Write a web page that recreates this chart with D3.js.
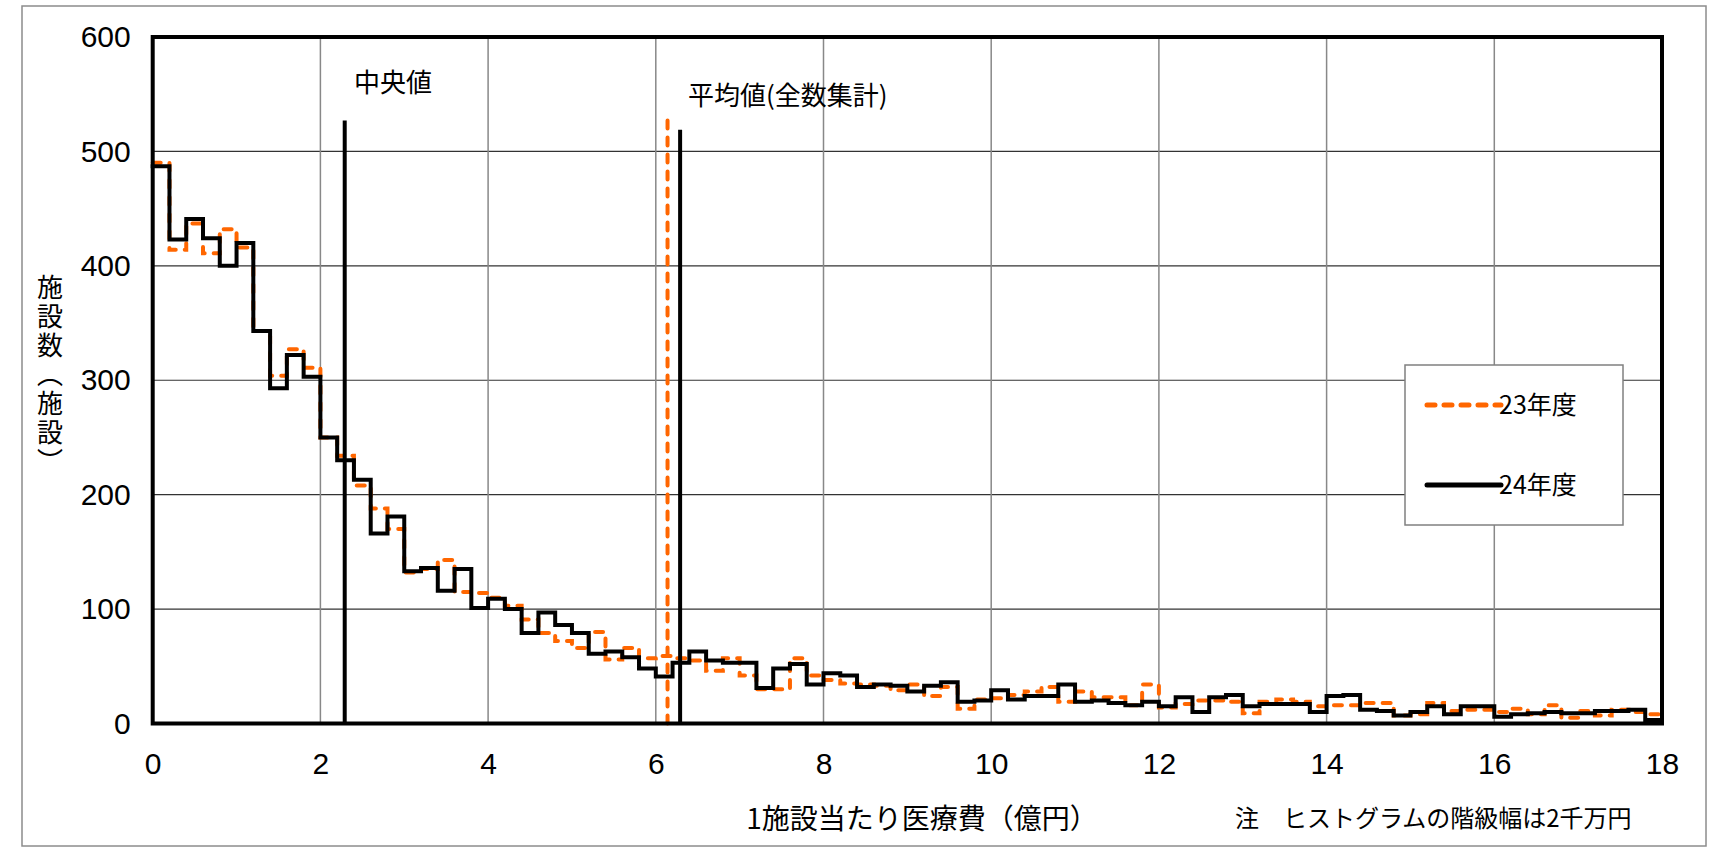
<!DOCTYPE html>
<html>
<head>
<meta charset="utf-8">
<script src="https://cdn.jsdelivr.net/npm/d3@7"></script>
<style>
body { margin:0; background:#fff; }
text { font-family:"Liberation Sans", Arial, sans-serif; }
.jp { font-family:"Noto Sans CJK JP", sans-serif; }
</style>
</head>
<body>
<script>
// histogram, bin width 0.2 (2千万円)
var binWidth = 0.2;
var series23 = [490,414,437,411,432,416,343,304,327,311,250,234,208,188,170,132,135,143,115,114,
    110,103,91,79,72,66,80,56,66,57,59,57,55,46,57,42,30,30,57,42,
    38,35,34,33,29,34,24,32,13,21,22,25,28,32,19,28,23,23,16,34,
    14,17,20,20,19,9,19,21,19,15,16,16,18,18,7,8,18,11,12,12,
    10,13,8,16,5,11,7,12,10,8];
var series24 = [487,423,441,424,400,420,343,293,322,303,250,230,213,166,181,133,136,116,135,101,
    109,100,79,97,86,79,61,63,58,48,41,53,63,55,53,53,31,48,52,34,
    44,42,32,34,33,28,33,36,19,20,29,21,24,24,34,19,20,18,16,19,
    15,23,10,23,25,15,17,17,17,10,24,25,12,11,7,10,15,8,15,15,
    6,8,9,10,9,9,11,11,12,3];
var seriesNames = ["23年度","24年度"];
var xTicks = [0,2,4,6,8,10,12,14,16,18];
var yTicks = [0,100,200,300,400,500,600];
// reference lines: median (中央値) and mean (平均値)
var refLines = [
    {value:2.29, top:527, series:1},
    {value:6.14, top:527, series:0},
    {value:6.29, top:519, series:1}
];

var width = 1713, height = 851;
var plot = {left:152.7, right:1662, top:37, bottom:723.5};

var x = d3.scaleLinear().domain([0,18]).range([plot.left,plot.right]);
var y = d3.scaleLinear().domain([0,600]).range([plot.bottom,plot.top]);

var svg = d3.select("body").append("svg")
    .attr("width",width)
    .attr("height",height);

svg.append("rect")
    .attr("x",22).attr("y",6)
    .attr("width",1684).attr("height",840)
    .attr("fill","#fff")
    .attr("stroke","#8c8c8c")
    .attr("stroke-width",1.5);

// grid
svg.append("g").selectAll("line")
    .data(yTicks.slice(1,-1))
    .enter().append("line")
    .attr("x1",plot.left).attr("x2",plot.right)
    .attr("y1",function(d){return y(d);})
    .attr("y2",function(d){return y(d);})
    .attr("stroke","#333")
    .attr("stroke-width",1.2);

svg.append("g").selectAll("line")
    .data(xTicks.slice(1,-1))
    .enter().append("line")
    .attr("y1",plot.top).attr("y2",plot.bottom)
    .attr("x1",function(d){return x(d);})
    .attr("x2",function(d){return x(d);})
    .attr("stroke","#888")
    .attr("stroke-width",1.5);

// axes (labels only, lines drawn by frame)
var yAxis = svg.append("g")
    .attr("transform","translate("+plot.left+",0)")
    .call(d3.axisLeft(y).tickValues(yTicks).tickSize(0).tickPadding(22));
var xAxis = svg.append("g")
    .attr("transform","translate(0,"+plot.bottom+")")
    .call(d3.axisBottom(x).tickValues(xTicks).tickSize(0).tickPadding(29));
[yAxis,xAxis].forEach(function(a){
    a.select(".domain").remove();
    a.selectAll("text")
        .attr("font-family","Liberation Sans, Arial, sans-serif")
        .attr("font-size",30)
        .attr("fill","#000");
});

var colors = ["#ff6600","#000"];
var dashes = ["8,9",null];

var line = d3.line()
    .x(function(d){return x(d[0]);})
    .y(function(d){return y(d[1]);})
    .curve(d3.curveStepAfter);

function steps(vals){
    var pts = vals.map(function(v,i){return [i*binWidth,v];});
    pts.push([18,vals[vals.length-1]]);
    return pts;
}

[series23,series24].forEach(function(s,k){
    svg.append("path")
        .attr("d",line(steps(s)))
        .attr("fill","none")
        .attr("stroke",colors[k])
        .attr("stroke-width",4)
        .attr("stroke-dasharray",dashes[k])
        .attr("stroke-linecap",k==0?"round":"square")
        .attr("stroke-linejoin","miter");
});

svg.append("g").selectAll("line")
    .data(refLines)
    .enter().append("line")
    .attr("x1",function(d){return x(d.value);})
    .attr("x2",function(d){return x(d.value);})
    .attr("y1",y(0))
    .attr("y2",function(d){return y(d.top);})
    .attr("stroke",function(d){return colors[d.series];})
    .attr("stroke-width",4)
    .attr("stroke-dasharray",function(d){return dashes[d.series];})
    .attr("stroke-linecap",function(d){return d.series==0?"round":"butt";});

// frame
svg.append("rect")
    .attr("x",plot.left).attr("y",plot.top)
    .attr("width",plot.right-plot.left)
    .attr("height",plot.bottom-plot.top)
    .attr("fill","none")
    .attr("stroke","#000")
    .attr("stroke-width",4);

svg.append("text").attr("class","jp")
    .attr("x",354).attr("y",92)
    .attr("font-size",26)
    .text("中央値");
svg.append("text").attr("class","jp")
    .attr("x",688).attr("y",105)
    .attr("font-size",26)
    .text("平均値(全数集計)");

// legend
var legend = svg.append("g").attr("transform","translate(1405,365)");
legend.append("rect")
    .attr("width",218).attr("height",160)
    .attr("fill","#fff")
    .attr("stroke","#808080")
    .attr("stroke-width",1.5);
seriesNames.forEach(function(name,k){
    var ly = 40+k*80;
    legend.append("line")
        .attr("x1",22).attr("x2",96)
        .attr("y1",ly).attr("y2",ly)
        .attr("stroke",colors[k])
        .attr("stroke-width",5)
        .attr("stroke-dasharray",dashes[k])
        .attr("stroke-linecap","round");
    legend.append("text").attr("class","jp")
        .attr("x",94).attr("y",ly+9)
        .attr("font-size",25)
        .text(name);
});

// y title written vertically
svg.append("text").attr("class","jp")
    .attr("x",50).attr("y",376)
    .attr("text-anchor","middle")
    .style("writing-mode","vertical-rl")
    .style("letter-spacing","3px")
    .attr("font-size",26)
    .text("施設数（施設）");

svg.append("text").attr("class","jp")
    .attr("x",922).attr("y",829)
    .attr("text-anchor","middle")
    .attr("font-size",28)
    .text("1施設当たり医療費（億円）");

svg.append("text").attr("class","jp")
    .attr("x",1235).attr("y",827)
    .attr("font-size",24)
    .text("注　ヒストグラムの階級幅は2千万円");
</script>
</body>
</html>
